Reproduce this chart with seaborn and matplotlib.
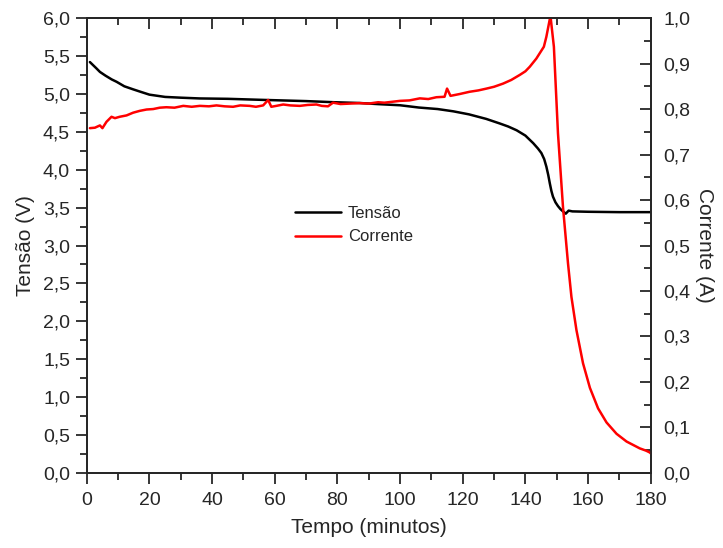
import numpy as np
import pandas as pd
import matplotlib
matplotlib.use('Agg')
import matplotlib.pyplot as plt
from matplotlib.ticker import MultipleLocator, FuncFormatter
from matplotlib.lines import Line2D
import seaborn as sns

# valores
tempo_v = [1, 2, 3, 4.2, 6, 8, 9.5, 12, 14.8, 17, 20, 25, 30, 36, 45, 57, 70, 79, 87,
           93, 100, 106, 112, 117, 122, 127.5, 131.8, 134.5, 137.2, 140, 142.5, 144,
           145.1, 146, 146.7, 147.3, 147.8, 148.3, 148.8, 149.6, 150.4, 151.2, 152.0,
           152.9, 153.8, 155, 160, 170, 180]
tensao = [5.42, 5.38, 5.34, 5.29, 5.24, 5.19, 5.16, 5.10, 5.06, 5.03, 4.99, 4.96, 4.95,
          4.94, 4.935, 4.92, 4.905, 4.89, 4.88, 4.865, 4.85, 4.82, 4.80, 4.77, 4.73,
          4.67, 4.61, 4.57, 4.52, 4.45, 4.35, 4.28, 4.22, 4.14, 4.04, 3.93, 3.82, 3.72,
          3.645, 3.57, 3.52, 3.48, 3.45, 3.42, 3.46, 3.45, 3.445, 3.44, 3.44]

tempo_i = [1, 2.6, 4.2, 5, 6.3, 7.9, 9, 10.5, 12.7, 14.8, 16.9, 19.1, 21.2, 23.3, 25.4,
           28, 30.8, 33.5, 36.1, 39, 41.4, 44, 46.7, 49, 52, 54, 56.3, 57.9, 58.9, 60.5,
           62.7, 65, 68, 70.5, 73.3, 75, 77, 78.6, 81, 84, 87.1, 90, 93, 95, 97.5, 100,
           103, 106.3, 109, 111.6, 114.2, 115, 116.1, 119, 122.2, 125, 127.6, 130,
           132.9, 135.5, 138.2, 140, 141.4, 143.5, 145.9, 146.7, 148, 149.1, 150.4,
           152, 153.6, 154.7, 156.3, 158.4, 160.6, 163.2, 165.9, 169.1, 172.3, 176.5,
           178.5, 179.7, 180]
corrente = [0.758, 0.759, 0.764, 0.758, 0.772, 0.783, 0.780, 0.783, 0.786, 0.792, 0.796,
            0.799, 0.800, 0.803, 0.804, 0.803, 0.807, 0.805, 0.807, 0.806, 0.808, 0.806,
            0.805, 0.808, 0.807, 0.805, 0.808, 0.820, 0.805, 0.807, 0.810, 0.808, 0.807,
            0.809, 0.810, 0.807, 0.806, 0.814, 0.811, 0.812, 0.813, 0.812, 0.815, 0.814,
            0.816, 0.818, 0.819, 0.8235, 0.822, 0.826, 0.827, 0.845, 0.829, 0.833, 0.838,
            0.841, 0.845, 0.849, 0.856, 0.864, 0.875, 0.883, 0.893, 0.911, 0.937, 0.959,
            1.005, 0.937, 0.747, 0.585, 0.461, 0.387, 0.314, 0.241, 0.187, 0.142, 0.111,
            0.086, 0.069, 0.054, 0.049, 0.045, 0.043]

df_v = pd.DataFrame({'Tempo': tempo_v, 'Tensao': tensao})
df_i = pd.DataFrame({'Tempo': tempo_i, 'Corrente': corrente})

sns.set_theme(style='ticks')
plt.rcParams['font.family'] = ['Liberation Sans', 'DejaVu Sans']
plt.rcParams['axes.linewidth'] = 1.3

fig = plt.figure(figsize=(7.23, 5.48), dpi=100)
ax = fig.add_axes([0.120, 0.137, 0.780, 0.830])
ax2 = ax.twinx()

sns.lineplot(data=df_v, x='Tempo', y='Tensao', ax=ax, color='black', linewidth=1.8)
sns.lineplot(data=df_i, x='Tempo', y='Corrente', ax=ax2, color='#ff0000', linewidth=1.8)

virgula = FuncFormatter(lambda v, p: f'{v:.1f}'.replace('.', ','))
inteiro = FuncFormatter(lambda v, p: f'{v:.0f}')

ax.set_xlim(0, 180)
ax.set_ylim(0, 6)
ax2.set_ylim(0, 1.0)
ax.xaxis.set_major_locator(MultipleLocator(20))
ax.xaxis.set_minor_locator(MultipleLocator(10))
ax.xaxis.set_major_formatter(inteiro)
ax.yaxis.set_major_locator(MultipleLocator(0.5))
ax.yaxis.set_minor_locator(MultipleLocator(0.25))
ax.yaxis.set_major_formatter(virgula)
ax2.yaxis.set_major_locator(MultipleLocator(0.1))
ax2.yaxis.set_minor_locator(MultipleLocator(0.05))
ax2.yaxis.set_major_formatter(virgula)

ax.tick_params(axis='both', which='major', direction='out', length=8, width=1.3,
               labelsize=14, pad=4)
ax.tick_params(axis='both', which='minor', direction='out', length=5, width=1.3)
ax.tick_params(axis='x', which='major', pad=6)
ax2.tick_params(axis='y', which='major', direction='in', length=8, width=1.3,
                labelsize=14, pad=9)
ax2.tick_params(axis='y', which='minor', direction='in', length=5, width=1.3)

topo = ax.secondary_xaxis('top')
topo.xaxis.set_major_locator(MultipleLocator(20))
topo.xaxis.set_minor_locator(MultipleLocator(10))
topo.tick_params(which='major', direction='in', length=8, width=1.3, labeltop=False)
topo.tick_params(which='minor', direction='in', length=5, width=1.3)

ax.set_xlabel('Tempo (minutos)', fontsize=15, labelpad=6)
ax.set_ylabel('Tensão (V)', fontsize=15, labelpad=6)
ax2.set_ylabel('Corrente (A)', fontsize=15, rotation=270, labelpad=17)

for s in ['top', 'right', 'left', 'bottom']:
    ax.spines[s].set_visible(True)
    ax2.spines[s].set_visible(True)

handles = [Line2D([], [], color='black', linewidth=1.8),
           Line2D([], [], color='#ff0000', linewidth=1.8)]
ax.legend(handles, ['Tensão', 'Corrente'], loc='center left',
          bbox_to_anchor=(0.342, 0.545), frameon=False, fontsize=12,
          handlelength=2.8, handletextpad=0.4, labelspacing=0.52)

plt.savefig('out.png', dpi=100)
